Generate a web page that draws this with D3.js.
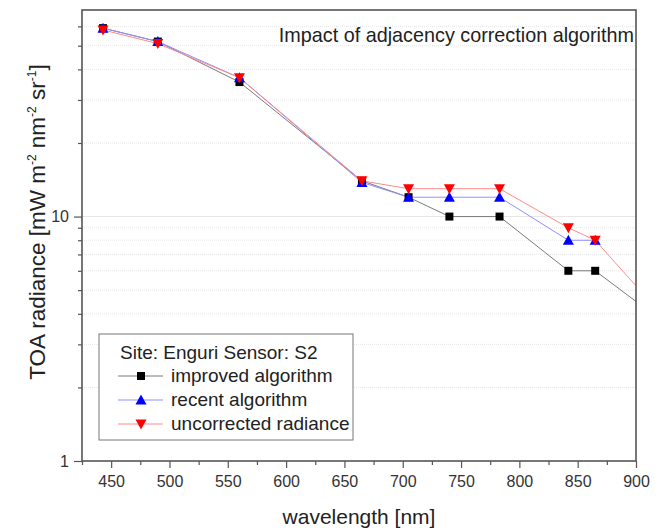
<!DOCTYPE html>
<html>
<head>
<meta charset="UTF-8">
<title>Impact of adjacency correction algorithm</title>
<script src="https://cdnjs.cloudflare.com/ajax/libs/d3/7.8.5/d3.min.js"></script>
<style>
    body { margin: 0; background: #fff; }
    svg { font-family: "Liberation Sans", Arial, sans-serif; }
    .frame { fill: none; stroke: #555; stroke-width: 1.6px; }
    .grid line { stroke: #e6e6e6; stroke-width: 1px; }
    .grid .minor { stroke-dasharray: 1,1; }
</style>
</head>
<body>
<script>
    // wavelengths (nm), Sentinel-2 bands; 945 is beyond the axis and clipped
    var wavelengths = [443, 490, 560, 665, 705, 740, 783, 842, 865, 945];
    var improved    = [59, 52, 35.5, 14, 12, 10, 10, 6, 6, 3.1];
    var recent      = [59, 52, 37, 13.8, 12, 12, 12, 8, 8];
    var uncorrected = [58, 51, 37, 14, 13, 13, 13, 9, 8, 3.0];

    var xMajor = [450, 500, 550, 600, 650, 700, 750, 800, 850, 900];
    var xMinor = [425, 475, 525, 575, 625, 675, 725, 775, 825, 875];
    var yMajor = [1, 10];
    var yMinor = [2, 3, 4, 5, 6, 7, 8, 9, 20, 30, 40, 50, 60];

    var series = [
        {name: "improved algorithm", values: improved, line: "#7a7a7a", fill: "#000", shape: "square"},
        {name: "recent algorithm", values: recent, line: "#8f8fff", fill: "#0000ff", shape: "up"},
        {name: "uncorrected radiance", values: uncorrected, line: "#ff8a8a", fill: "#ff0000", shape: "down"}
    ];

    var W = 662, H = 531;
    var margin = {top: 10, right: 26, bottom: 70, left: 82},
        width = W - margin.left - margin.right,
        height = H - margin.top - margin.bottom;

    var x = d3.scaleLinear().domain([425, 900]).range([0, width]);
    var y = d3.scaleLog().domain([1, 70]).range([height, 0]);

    var svg = d3.select("body").append("svg")
        .attr("width", W)
        .attr("height", H);

    var g = svg.append("g")
        .attr("transform", `translate(${margin.left},${margin.top})`);

    g.append("clipPath").attr("id", "plot-clip")
        .append("rect").attr("width", width).attr("height", height);

    // grid
    var grid = g.append("g").attr("class", "grid");
    grid.selectAll("line.minor").data(yMinor).enter().append("line")
        .attr("class", "minor")
        .attr("x1", 0).attr("x2", width)
        .attr("y1", (d) => y(d)).attr("y2", (d) => y(d));
    grid.selectAll("line.major").data([10]).enter().append("line")
        .attr("class", "major")
        .attr("x1", 0).attr("x2", width)
        .attr("y1", (d) => y(d)).attr("y2", (d) => y(d));

    // axes
    var xAxis = d3.axisBottom(x).tickValues(xMajor).tickSize(7).tickPadding(8).tickFormat(d3.format("d"));
    var xAxisMinor = d3.axisBottom(x).tickValues(xMinor).tickSize(4).tickFormat("");
    var yAxis = d3.axisLeft(y).tickValues(yMajor).tickSize(8).tickPadding(5).tickFormat(d3.format("d"));
    var yAxisMinor = d3.axisLeft(y).tickValues(yMinor).tickSize(4).tickFormat("");

    function styleAxis(sel) {
        sel.select(".domain").remove();
        sel.selectAll("text").attr("fill", "#333").style("font-size", "16px");
    }

    g.append("g").attr("transform", `translate(0,${height})`).call(xAxis).call(styleAxis);
    g.append("g").attr("transform", `translate(0,${height})`).call(xAxisMinor).call(styleAxis);
    g.append("g").call(yAxis).call(styleAxis);
    g.append("g").call(yAxisMinor).call(styleAxis);

    g.selectAll(".tick line").attr("stroke", "#555").attr("stroke-width", 1.2);

    // lines
    var line = d3.line()
        .x((d) => x(d[0]))
        .y((d) => y(d[1]));

    var plot = g.append("g").attr("clip-path", "url(#plot-clip)");

    series.forEach(function(s) {
        s.points = s.values.map((v, i) => [wavelengths[i], v]);
    });

    series.forEach(function(s) {
        plot.append("path")
            .datum(s.points)
            .attr("fill", "none")
            .attr("stroke", s.line)
            .attr("stroke-width", 1)
            .attr("d", line);
    });

    function marker(sel, shape, color) {
        if (shape === "square") {
            sel.append("rect").attr("x", -4).attr("y", -4).attr("width", 8).attr("height", 8).attr("fill", color);
        } else if (shape === "up") {
            sel.append("path").attr("d", "M0,-5.5L5.5,4.5L-5.5,4.5Z").attr("fill", color);
        } else {
            sel.append("path").attr("d", "M0,5.5L5.5,-4.5L-5.5,-4.5Z").attr("fill", color);
        }
    }

    series.forEach(function(s) {
        s.points.filter((p) => p[0] <= 900).forEach(function(p) {
            var m = plot.append("g").attr("transform", `translate(${x(p[0])},${y(p[1])})`);
            marker(m, s.shape, s.fill);
        });
    });

    // frame
    g.append("rect").attr("class", "frame")
        .attr("width", width).attr("height", height);

    // title inside plot
    g.append("text")
        .attr("x", width - 2).attr("y", 32)
        .attr("text-anchor", "end")
        .style("font-size", "19.8px")
        .attr("fill", "#222")
        .text("Impact of adjacency correction algorithm");

    // legend
    var lg = g.append("g").attr("transform", "translate(17,324)");
    lg.append("rect").attr("width", 254).attr("height", 106)
        .attr("fill", "#fff").attr("stroke", "#777").attr("stroke-width", 1);
    lg.append("text").attr("x", 21).attr("y", 25)
        .style("font-size", "19px").attr("fill", "#222")
        .text("Site: Enguri Sensor: S2");
    series.forEach(function(s, i) {
        var yy = 42 + i * 24;
        lg.append("line").attr("x1", 19).attr("x2", 64).attr("y1", yy).attr("y2", yy)
            .attr("stroke", s.line).attr("stroke-width", 1);
        marker(lg.append("g").attr("transform", `translate(42,${yy})`), s.shape, s.fill);
        lg.append("text").attr("x", 72).attr("y", yy + 6)
            .style("font-size", "19px").attr("fill", "#222")
            .text(s.name);
    });

    // axis titles
    svg.append("text")
        .attr("x", margin.left + width / 2).attr("y", H - 7)
        .attr("text-anchor", "middle")
        .style("font-size", "21px").attr("fill", "#222")
        .text("wavelength [nm]");

    var yt = svg.append("text")
        .attr("transform", `translate(45,${margin.top + 212}) rotate(-90)`)
        .attr("text-anchor", "middle")
        .style("font-size", "22.5px").attr("fill", "#222");
    yt.append("tspan").text("TOA radiance [mW m");
    yt.append("tspan").attr("dy", -9).style("font-size", "12px").text("-2");
    yt.append("tspan").attr("dy", 9).text(" nm");
    yt.append("tspan").attr("dy", -9).style("font-size", "12px").text("-2");
    yt.append("tspan").attr("dy", 9).text(" sr");
    yt.append("tspan").attr("dy", -9).style("font-size", "12px").text("-1");
    yt.append("tspan").attr("dy", 9).text("]");
</script>
</body>
</html>
